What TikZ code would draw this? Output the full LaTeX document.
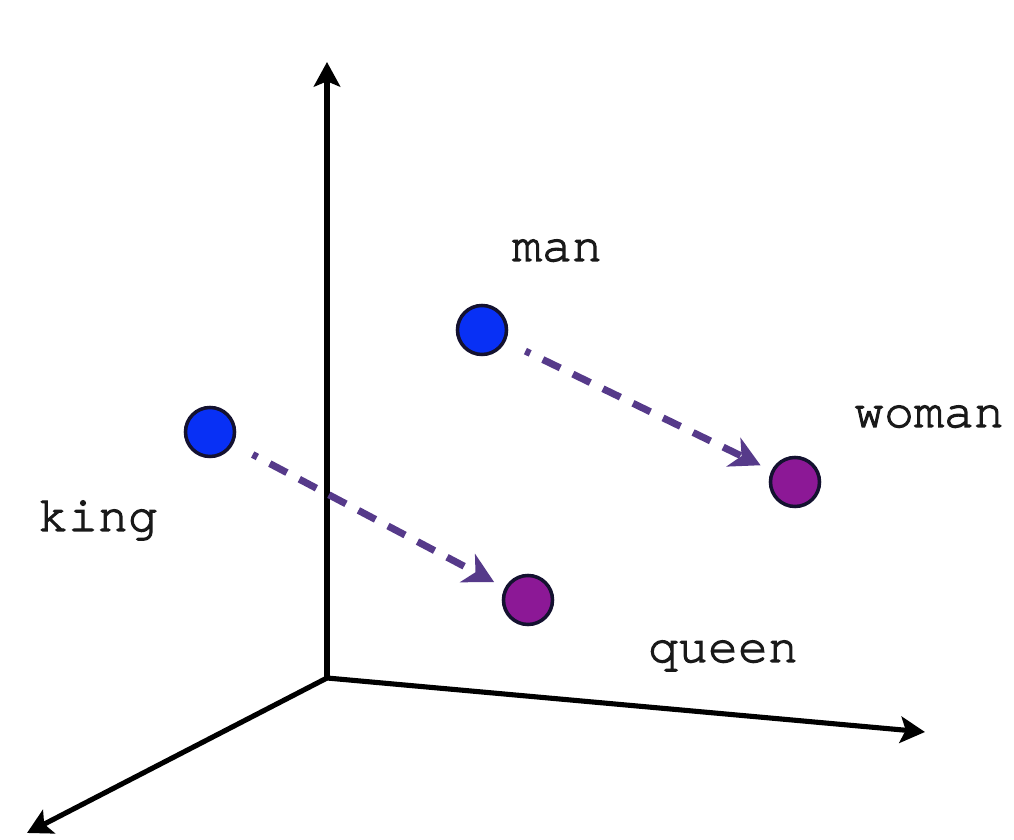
\documentclass[tikz,border=0pt]{standalone}
\usepackage{fontspec}
\newfontfamily\wordfont{texgyrecursor-regular.otf}[FakeBold=2.2]
\usetikzlibrary{arrows.meta}
\definecolor{kingblue}{RGB}{8,48,245}
\definecolor{queenpurple}{RGB}{140,24,150}
\definecolor{shiftpurple}{RGB}{86,58,138}
\definecolor{dotrim}{RGB}{20,18,48}
\begin{document}
\begin{tikzpicture}[x=0.01cm, y=-0.01cm,
    axis/.style={line width=1.45pt, -{Stealth[length=7pt, width=7.5pt, inset=1.5pt]}},
    worddot/.style={circle, draw=dotrim, line width=1pt, minimum size=0.49cm, inner sep=0pt},
    analogy/.style={draw=shiftpurple, line width=2pt, dash pattern=on 5.5pt off 4pt, dash phase=4pt,
        -{Stealth[length=8.5pt, width=9pt, inset=2.5pt]}, shorten <=0.22cm, shorten >=0.12cm},
    word/.style={anchor=base, text=black!90, font=\wordfont\fontsize{14.2}{17}\selectfont}]
    \useasboundingbox (0,0) rectangle (1014,840);
    % axes
    \coordinate (origin) at (327,678);
    \coordinate (ytip) at (327,62);
    \coordinate (xtip) at (925,732);
    \coordinate (ztip) at (27,833);
    \draw[axis] (origin) -- (ytip);
    \draw[axis] (origin) -- (xtip);
    \draw[axis] (origin) -- (ztip);
    % words
    \node[worddot, fill=kingblue] (king) at (210,432) {};
    \node[worddot, fill=kingblue] (man) at (482,330) {};
    \node[worddot, fill=queenpurple] (woman) at (795,482) {};
    \node[worddot, fill=queenpurple] (queen) at (528,600) {};
    \draw[analogy] (king) -- (queen);
    \draw[analogy] (man) -- (woman);
    \node[word] (kinglabel) at (98,531) {king};
    \node[word] (manlabel) at (557,261) {man};
    \node[word] (womanlabel) at (929,427) {woman};
    \node[word] (queenlabel) at (723,662) {queen};
\end{tikzpicture}
\end{document}
